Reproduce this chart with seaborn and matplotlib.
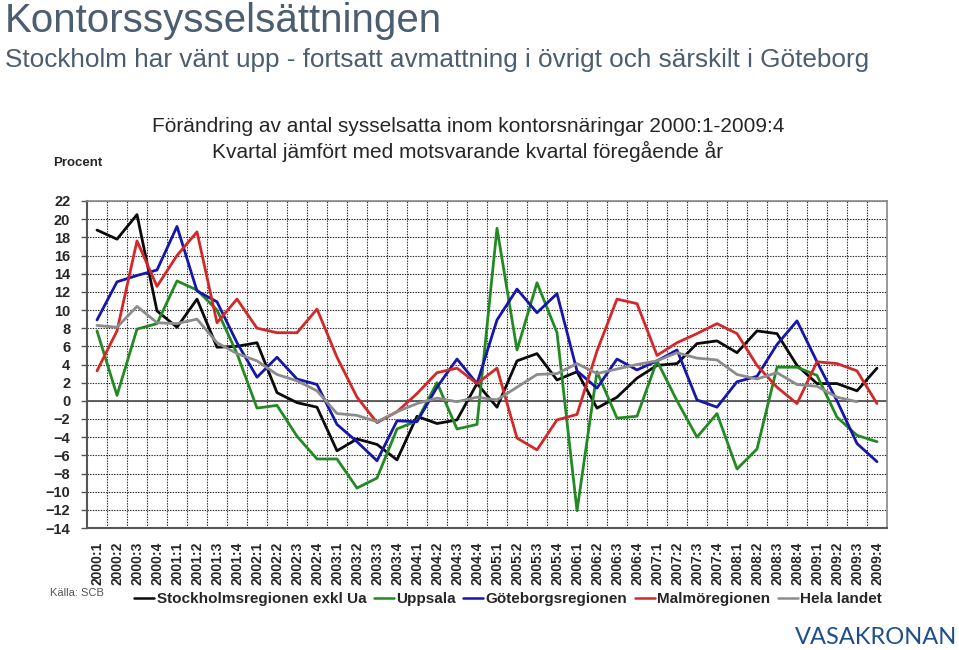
import numpy as np
import pandas as pd
import matplotlib
matplotlib.use('Agg')
import matplotlib.pyplot as plt
from matplotlib.lines import Line2D
import seaborn as sns

# quarters 2000:1 .. 2009:4
years=list(range(2000,2010))
quarter_labels=[f'{y}:{q}' for y in years for q in range(1,5)]

stockholm=[18.8,17.8,20.5,9.9, 8.1,11.2,5.9,6.0, 6.4,0.9,-0.2,-0.7, -5.5,-4.2,-4.8,-6.5,
           -1.7,-2.5,-2.1,1.9, -0.7,4.4,5.2,2.3, 3.2,-0.8,0.4,2.5, 3.9,4.1,6.3,6.6,
           5.3,7.7,7.4,3.9, 1.9,1.9,1.1,3.6]
uppsala=[7.7,0.6,7.9,8.5, 13.2,12.2,10.0,5.2, -0.8,-0.5,-3.9,-6.4, -6.4,-9.6,-8.5,-3.1,
         -2.2,2.0,-3.1,-2.6, 19.0,5.6,13.0,7.5, -12.1,3.2,-1.9,-1.7, 4.4,0.0,-4.0,-1.4,
         -7.5,-5.3,3.7,3.7, 2.8,-1.8,-3.8,-4.5]
goteborg=[8.9,13.1,13.8,14.4, 19.2,12.1,10.9,6.4, 2.6,4.8,2.4,1.8, -2.6,-4.5,-6.6,-2.2,
          -2.3,1.5,4.6,1.9, 8.9,12.3,9.7,11.8, 3.3,1.4,4.6,3.4, 4.4,5.6,0.1,-0.7,
          2.1,2.7,6.2,8.8, 4.3,0.0,-4.7,-6.7]
malmo=[3.3,7.7,17.6,12.6, 16.0,18.6,8.6,11.2, 8.0,7.5,7.5,10.1, 4.8,0.4,-2.4,-1.2,
       0.8,3.1,3.6,1.9, 3.6,-4.1,-5.4,-2.1, -1.5,5.5,11.2,10.7, 5.0,6.4,7.4,8.5,
       7.4,3.9,1.5,-0.3, 4.3,4.1,3.3,-0.3]
hela=[8.3,8.1,10.4,8.6, 8.5,9.0,6.4,5.2, 4.4,2.9,2.2,1.1, -1.4,-1.6,-2.3,-1.2,
      -0.3,0.3,-0.1,0.4, 0.1,1.5,2.9,3.0, 4.1,3.0,3.5,4.0, 4.4,5.3,4.7,4.5,
      2.9,2.4,3.1,1.8, 1.6,0.4,-0.1,np.nan]

series_names=['Stockholmsregionen exkl Ua','Uppsala','Göteborgsregionen','Malmöregionen','Hela landet']
series_vals=[stockholm,uppsala,goteborg,malmo,hela]
colors=['#0a0a0a','#238a23','#1616aa','#d42828','#8c8c8c']

df=pd.concat([pd.DataFrame({'q':range(len(quarter_labels)),'val':v,'region':n})
              for n,v in zip(series_names,series_vals)],ignore_index=True)

sns.set_style('white')
plt.rcParams['font.family']=['Liberation Sans','DejaVu Sans']

fig=plt.figure(figsize=(9.59,6.5),dpi=100)
ax=fig.add_axes([87/959,1-528/650,800/959,327/650])

sns.lineplot(df,x='q',y='val',hue='region',palette=dict(zip(series_names,colors)),
             lw=2.0,legend=False,sort=False,ax=ax)

ax.set_xlim(-0.5,len(quarter_labels)-0.5)
ax.set_ylim(-14,22)
ax.set_yticks(range(-14,23,2))
ax.set_xticks(range(len(quarter_labels)),quarter_labels,rotation=90)
ax.set_xticks(np.arange(0.5,len(quarter_labels)-1,1),minor=True)
ax.set(xlabel='',ylabel='')
ax.yaxis.grid(True,linestyle=(0,(1.2,1.2)),color='#222222',lw=0.8)
ax.xaxis.grid(True,which='minor',linestyle=(0,(1.2,1.2)),color='#222222',lw=0.8)
ax.set_axisbelow(True)
ax.axhline(0,color='#555555',lw=1.3,zorder=1.5)
ax.tick_params(axis='y',left=True,length=4,width=1,color='#555555',pad=8,labelsize=10.5)
ax.tick_params(axis='x',which='both',bottom=False,length=0,pad=10,labelsize=10)
for lab in ax.get_xticklabels()+ax.get_yticklabels():
    lab.set_fontweight('bold')
for s in ['left','bottom']:
    ax.spines[s].set_color('#555555')
    ax.spines[s].set_linewidth(1.5)
for s in ['top','right']:
    ax.spines[s].set_color('#888888')
    ax.spines[s].set_linewidth(1.2)

# titles
fig.text(5/959,1-21/650,'Kontorssysselsättningen',fontsize=29,color='#4b5d6e',va='center',ha='left')
fig.text(5/959,1-60/650,'Stockholm har vänt upp - fortsatt avmattning i övrigt och särskilt i Göteborg',
         fontsize=18.8,color='#4b5d6e',va='center',ha='left')
fig.text(468/959,1-127/650,'Förändring av antal sysselsatta inom kontorsnäringar 2000:1-2009:4',
         fontsize=15,va='center',ha='center')
fig.text(468/959,1-151/650,'Kvartal jämfört med motsvarande kvartal föregående år',
         fontsize=15,va='center',ha='center')
fig.text(53/959,1-163/650,'Procent',fontsize=9.5,fontweight='bold',va='center',ha='left')
fig.text(50/959,1-593/650,'Källa: SCB',fontsize=8,color='#555555',va='center',ha='left')
fig.text(957/959,1-637/650,'VASAKRONAN',fontsize=17,color='#1f4e8c',va='center',ha='right',
         family=['Lato','DejaVu Sans'])

handles=[Line2D([],[],color=c,lw=1.8) for c in colors]
fig.legend(handles,series_names,loc='center',bbox_to_anchor=(508/959,1-599/650),ncol=5,
           frameon=False,prop={'weight':'bold','size':11},handlelength=1.3,
           handletextpad=0.15,columnspacing=0.5)

plt.savefig('out.png',dpi=100)
